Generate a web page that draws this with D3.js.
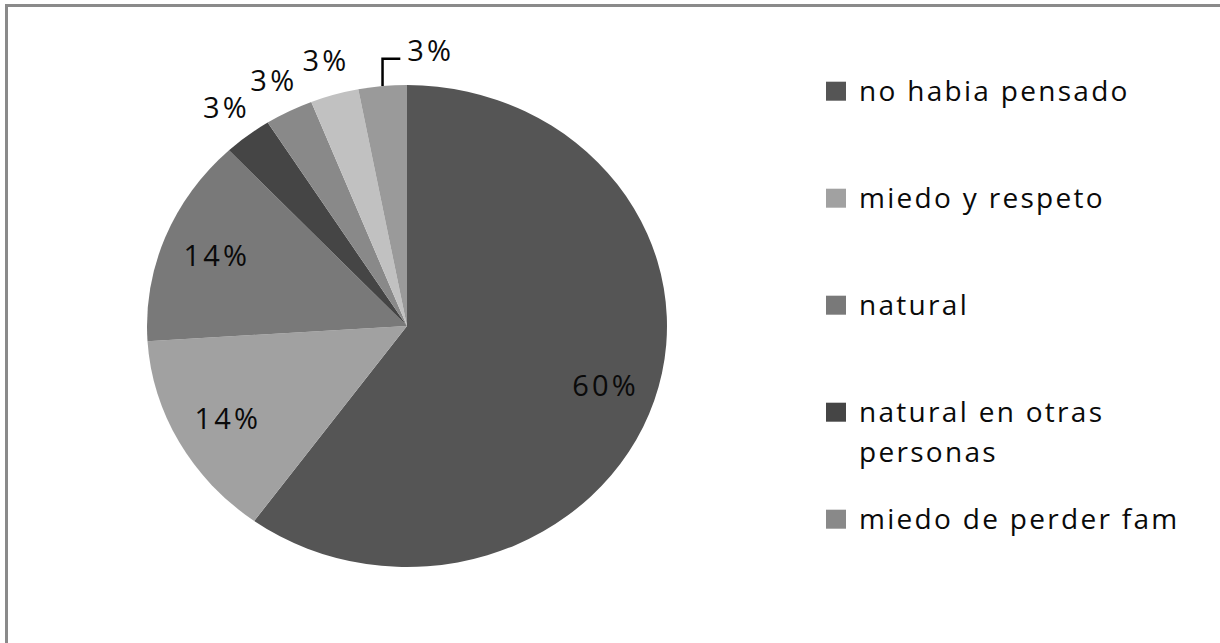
<!DOCTYPE html>
<html>
<head>
<meta charset="utf-8">
<script src="https://cdn.jsdelivr.net/npm/d3@7"></script>
<style>
  html, body { margin: 0; padding: 0; background: #fff; }
  svg { display: block; }
  text { font-family: "Open Sans", Lato, sans-serif; fill: #0a0a0a; }
</style>
</head>
<body>
<svg id="chart" width="1220" height="643"></svg>
<script>
// ---- data ----
const categories = ["no habia pensado", "miedo y respeto", "natural", "natural en otras personas", "miedo de perder fam", "otros", "otros (2)"];
const percents = [60, 14, 14, 3, 3, 3, 3];
const sliceColors = ["#555555", "#a1a1a1", "#797979", "#454545", "#898989", "#c1c1c1", "#9a9a9a"];
const legendCount = 5; // only the first five entries are visible in the legend

// ---- layout ----
const W = 1220, H = 643;
const cx = 407, cy = 326, R = 260, squash = 0.927;
const svg = d3.select("#chart");

// frame (chart area border, cropped at right/bottom)
svg.append("rect")
  .attr("x", 6.5).attr("y", 5.5)
  .attr("width", W + 20).attr("height", H + 20)
  .attr("fill", "#fff").attr("stroke", "#8a8a8a").attr("stroke-width", 3);

const data = categories.map((c, i) => ({ name: c, value: percents[i], color: sliceColors[i] }));

const pie = d3.pie().value(d => d.value).sort(null);
const arcs = pie(data);
const arc = d3.arc().innerRadius(0).outerRadius(R);

const gPie = svg.append("g").attr("transform", `translate(${cx},${cy}) scale(1,${squash})`);
gPie.selectAll("path").data(arcs).enter().append("path")
  .attr("d", arc)
  .attr("fill", d => d.data.color);

// labels
const total = d3.sum(percents);
const fmt = v => Math.round(v / total * 100) + "%";
const inArc = d3.arc().innerRadius(R * 0.795).outerRadius(R * 0.795);
const outArc = d3.arc().innerRadius(R * 1.145).outerRadius(R * 1.145);
const edgeArc = d3.arc().innerRadius(R).outerRadius(R);
const toScreen = p => [cx + p[0], cy + p[1] * squash];

const gLab = svg.append("g");
arcs.forEach(a => {
  const share = a.data.value / total;
  const mid = (a.startAngle + a.endAngle) / 2;
  let pos, leader = null;
  if (share >= 0.05) {
    pos = toScreen(inArc.centroid(a));
  } else {
    const twoPi = Math.PI * 2;
    if (twoPi - mid < 10 * Math.PI / 180) {
      // too close to the top: mirror to the other side and draw a leader line
      const m = twoPi - mid - 1.2 * Math.PI / 180;
      pos = toScreen(outArc.centroid({ startAngle: m, endAngle: m }));
      const edge = toScreen(edgeArc.centroid({ startAngle: mid, endAngle: mid }));
      leader = { edge, pos };
    } else {
      pos = toScreen(outArc.centroid(a));
    }
  }
  const t = gLab.append("text")
    .attr("x", pos[0] + 2).attr("y", pos[1] + 10.5)
    .attr("text-anchor", "middle")
    .style("font-size", "29px")
    .style("letter-spacing", "3.2px")
    .text(fmt(a.data.value));
  if (leader) {
    const bb = t.node().getBBox();
    const yLine = leader.pos[1] + 8;
    const xEnd = bb.x - 7;
    gLab.append("path")
      .attr("d", `M${leader.edge[0]},${leader.edge[1]} V${yLine} H${xEnd}`)
      .attr("fill", "none").attr("stroke", "#000").attr("stroke-width", 2.5);
  }
});

// legend
const legendX = 826, textX = 859, maxW = 350, lineH = 40.6;
const ly = d3.scaleLinear().domain([0, 1]).range([100.7, 207.7]);
const gLeg = svg.append("g");
data.slice(0, legendCount).forEach((d, i) => {
  const base = ly(i);
  gLeg.append("rect")
    .attr("x", legendX).attr("y", base - 19)
    .attr("width", 20).attr("height", 19)
    .attr("fill", d.color);
  const t = gLeg.append("text")
    .attr("x", textX).attr("y", base)
    .style("font-size", "28px")
    .style("letter-spacing", "2.3px");
  // simple greedy word wrap
  const words = d.name.split(" ");
  let line = [], lineNo = 0;
  let tsp = t.append("tspan").attr("x", textX).attr("y", base);
  words.forEach(w => {
    line.push(w);
    tsp.text(line.join(" "));
    if (tsp.node().getComputedTextLength() > maxW && line.length > 1) {
      line.pop();
      tsp.text(line.join(" "));
      line = [w];
      lineNo++;
      tsp = t.append("tspan").attr("x", textX).attr("y", base + lineNo * lineH).text(w);
    }
  });
});
</script>
</body>
</html>
